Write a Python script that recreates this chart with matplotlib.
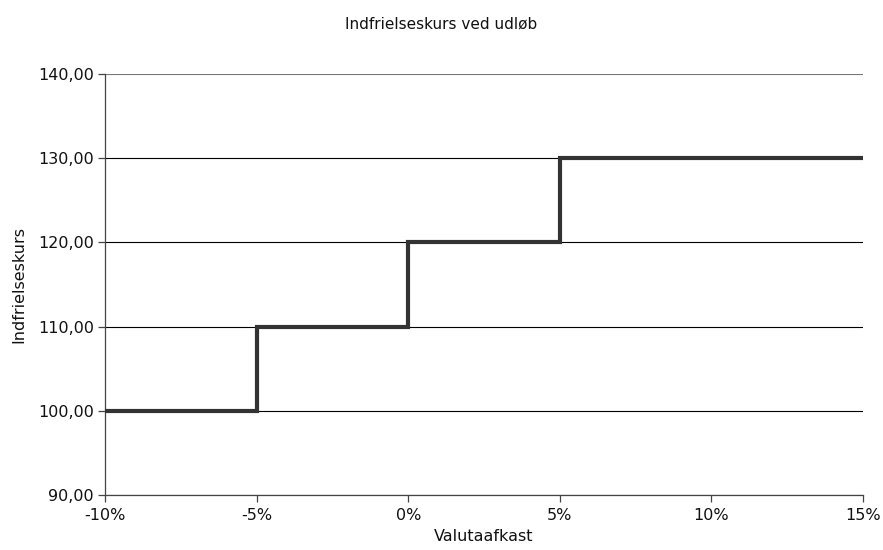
import matplotlib
matplotlib.use("Agg")
import matplotlib.pyplot as plt
from matplotlib.ticker import FuncFormatter

# Data
x_returns = [-10, -5, 0, 5, 10, 15]          # Valutaafkast (%)
y_kurs = [100, 110, 120, 130, 130, 130]       # Indfrielseskurs
y_ticks = [90, 100, 110, 120, 130, 140]
x_ticks = [-10, -5, 0, 5, 10, 15]

plt.rcParams['font.family'] = ['DejaVu Sans']
fig = plt.figure(figsize=(8.83, 5.5), dpi=100)
ax = fig.add_axes([105/883, 1-495/550, (863-105)/883, (495-74)/550])

ax.plot(x_returns, y_kurs, drawstyle='steps-post', color='#333333', lw=3.0,
        solid_joinstyle='miter', zorder=3)

ax.set_xlim(-10, 15)
ax.set_ylim(90, 140)
ax.set_yticks(y_ticks)
ax.set_xticks(x_ticks)
ax.yaxis.set_major_formatter(FuncFormatter(lambda v, p: f"{v:.2f}".replace('.', ',')))
ax.xaxis.set_major_formatter(FuncFormatter(lambda v, p: f"{v:.0f}%"))
ax.grid(axis='y', color='black', lw=0.8)
ax.set_axisbelow(True)
ax.yaxis.get_gridlines()[-1].set_color('#777777')
for s in ['top', 'right']:
    ax.spines[s].set_visible(False)
for s in ['left', 'bottom']:
    ax.spines[s].set_color('#444444')
    ax.spines[s].set_linewidth(0.9)
ax.tick_params(axis='both', direction='out', length=5, width=0.9, color='#444444',
               labelsize=11.5, colors='#111111')
ax.tick_params(axis='x', pad=4)
ax.tick_params(axis='y', pad=3)

ax.set_xlabel('Valutaafkast', fontsize=11.5, color='#111111', labelpad=5)
ax.set_ylabel('Indfrielseskurs', fontsize=11.5, color='#111111', labelpad=8)
fig.text(0.5, 1-24/550, 'Indfrielseskurs ved udløb',
         ha='center', va='center', fontsize=11, color='#111111')

fig.savefig('out.png', dpi=100)
